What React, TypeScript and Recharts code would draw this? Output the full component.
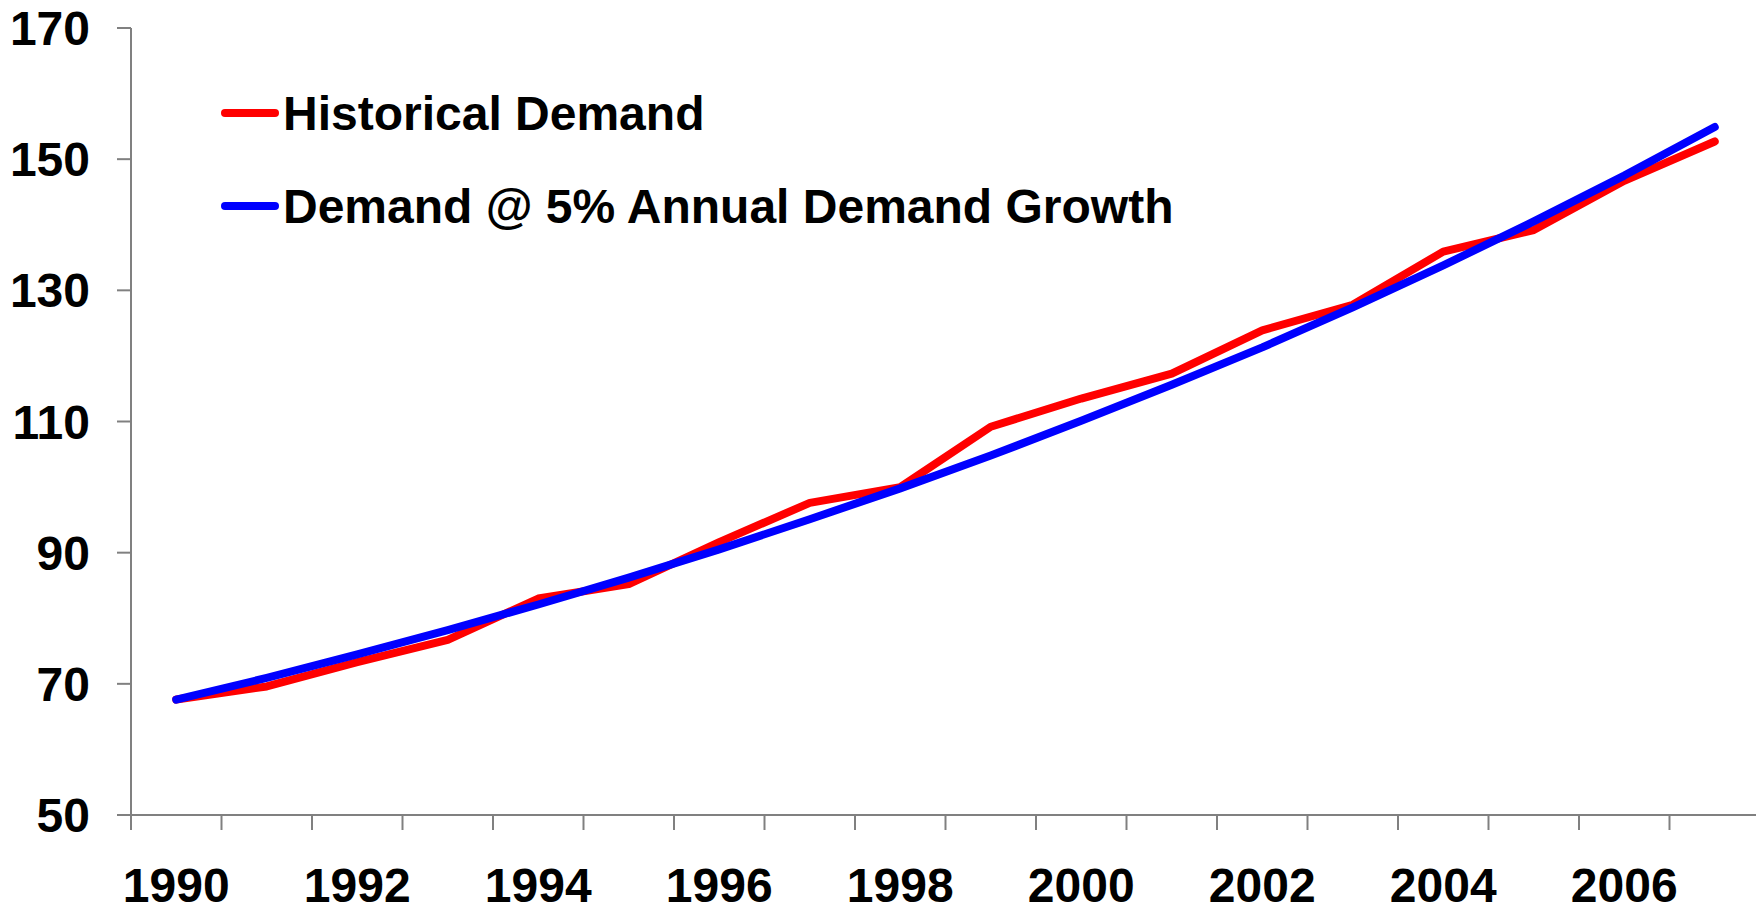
import React from "react";
import { LineChart, Line, XAxis, YAxis } from "recharts";

const years = [1990, 1991, 1992, 1993, 1994, 1995, 1996, 1997, 1998, 1999, 2000, 2001, 2002, 2003, 2004, 2005, 2006, 2007];
const historical = [67.6, 69.6, 73.3, 76.7, 83.0, 85.2, 91.6, 97.6, 100.0, 109.2, 113.5, 117.3, 123.9, 127.8, 135.9, 139.2, 146.7, 152.7];
const growth = [67.6, 70.9, 74.5, 78.2, 82.1, 86.2, 90.5, 95.1, 99.8, 104.8, 110.1, 115.6, 121.3, 127.4, 133.8, 140.5, 147.5, 154.9];

const yTicks = [50, 70, 90, 110, 130, 150, 170];
const xLabelTicks = [1990, 1992, 1994, 1996, 1998, 2000, 2002, 2004, 2006];
const xBoundaryTicks = [1989.5, 1990.5, 1991.5, 1992.5, 1993.5, 1994.5, 1995.5, 1996.5, 1997.5, 1998.5, 1999.5, 2000.5, 2001.5, 2002.5, 2003.5, 2004.5, 2005.5, 2006.5, 2007.5];

const seriesNames = ["Historical Demand", "Demand @ 5% Annual Demand Growth"];
const seriesColors = ["#FF0000", "#0000FF"];

const data = years.map((y, i) => ({ year: y, historical: historical[i], growth: growth[i] }));

const FONT = '"Liberation Sans", Arial, Helvetica, sans-serif';
const AXIS = "#808080";

const tickStyle = { fill: "#000", fontSize: 48, fontWeight: "bold" as const, fontFamily: FONT };

const EmptyTick = () => <g />;

const LegendBox = () => (
  <div style={{ position: "absolute", left: 217, top: 66.5, fontFamily: FONT, fontWeight: "bold", fontSize: 48, color: "#000" }}>
    {seriesNames.map((name, i) => (
      <div key={name} style={{ display: "flex", alignItems: "center", height: 93, whiteSpace: "nowrap" }}>
        <svg width={66} height={20} style={{ display: "block" }}>
          <line x1={8} y1={10} x2={58} y2={10} stroke={seriesColors[i]} strokeWidth={8} strokeLinecap="round" />
        </svg>
        <span>{name}</span>
      </div>
    ))}
  </div>
);

export default function App() {
  return (
    <div style={{ position: "absolute", left: 0, top: 0, width: 1756, height: 908, overflow: "hidden", background: "#fff" }}>
      <LineChart width={1760} height={908} data={data} margin={{ top: 28, right: 0, left: 0, bottom: 0 }}>
        <XAxis
          xAxisId="grid"
          dataKey="year"
          type="number"
          domain={[1989.5, 2007.5]}
          allowDataOverflow
          ticks={xBoundaryTicks}
          interval={0}
          tick={<EmptyTick />}
          tickSize={15}
          height={15}
          axisLine={{ stroke: AXIS, strokeWidth: 2 }}
          tickLine={{ stroke: AXIS, strokeWidth: 2 }}
        />
        <XAxis
          xAxisId="labels"
          dataKey="year"
          type="number"
          domain={[1989.5, 2007.5]}
          allowDataOverflow
          ticks={xLabelTicks}
          interval={0}
          tick={tickStyle}
          tickSize={0}
          tickMargin={38}
          height={78}
          axisLine={false}
          tickLine={false}
        />
        <YAxis
          domain={[50, 170]}
          ticks={yTicks}
          interval={0}
          width={131}
          tick={tickStyle}
          tickSize={14}
          tickMargin={27}
          axisLine={{ stroke: AXIS, strokeWidth: 2 }}
          tickLine={{ stroke: AXIS, strokeWidth: 2 }}
        />
        <Line
          xAxisId="grid"
          type="linear"
          dataKey="historical"
          name={seriesNames[0]}
          stroke={seriesColors[0]}
          strokeWidth={8}
          strokeLinecap="round"
          strokeLinejoin="round"
          dot={false}
          activeDot={false}
          isAnimationActive={false}
        />
        <Line
          xAxisId="grid"
          type="linear"
          dataKey="growth"
          name={seriesNames[1]}
          stroke={seriesColors[1]}
          strokeWidth={8}
          strokeLinecap="round"
          strokeLinejoin="round"
          dot={false}
          activeDot={false}
          isAnimationActive={false}
        />
      </LineChart>
      <LegendBox />
    </div>
  );
}
